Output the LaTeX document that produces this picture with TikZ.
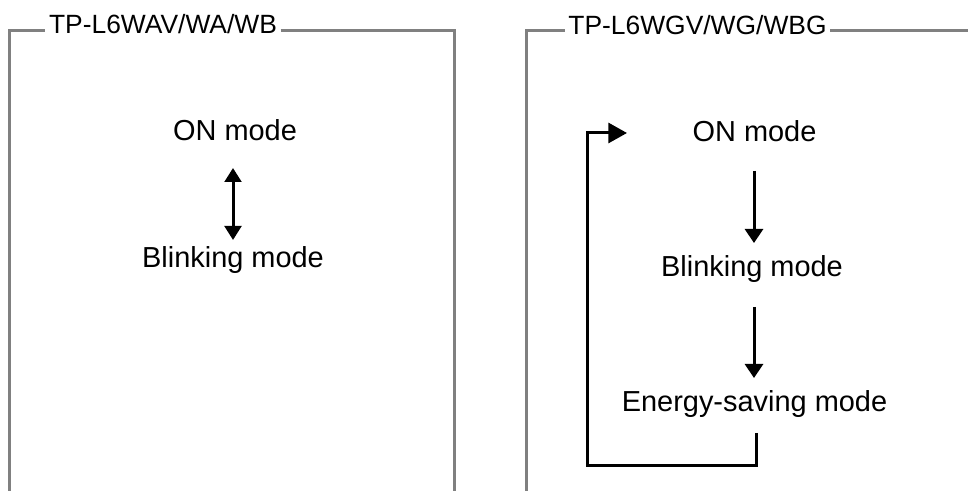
\documentclass[tikz,border=0pt]{standalone}
\usepackage{fontspec}
\setmainfont{Liberation Sans}
\usetikzlibrary{arrows.meta,calc}
\definecolor{framegray}{HTML}{808080}
\begin{document}
\begin{tikzpicture}[x=0.75pt,y=-0.75pt,
  frameline/.style={draw=framegray,line width=2.25pt},
  flowline/.style={line width=2.25pt},
  tip/.tip={Triangle[length=10.5pt,width=12.5pt]},
  bigtip/.tip={Triangle[length=14pt,width=15pt]},
  modelabel/.style={font=\fontsize{21.7}{26}\selectfont, inner sep=0pt, anchor=base},
  titlelabel/.style={font=\fontsize{19.8}{24}\selectfont, inner xsep=2.5pt, inner ysep=0pt, anchor=base}]
\useasboundingbox (0,0) rectangle (968,491);

% ---------- left panel ----------
\node[titlelabel] (t1) at (163,33.5) {TP-L6WAV/WA/WB};
\coordinate (ly1) at (0,31);
\draw[frameline] (9.5,491) -- (9.5,31) -- (t1.west |- ly1);
\draw[frameline] (t1.east |- ly1) -- (454.5,31) -- (454.5,491);

\node[modelabel] (on1) at (235,141) {ON mode};
\node[modelabel] (bl1) at (233,268) {Blinking mode};
\draw[flowline,{tip}-{tip}] ($(on1.base)+(-2,27)$) -- ($(bl1.base)+(0,-28)$);

% ---------- right panel ----------
\node[titlelabel] (t2) at (697.5,35) {TP-L6WGV/WG/WBG};
\coordinate (ly2) at (0,30.5);
\draw[frameline] (526.5,491) -- (526.5,30.5) -- (t2.west |- ly2);
\draw[frameline] (t2.east |- ly2) -- (968,30.5);

\node[modelabel] (on2) at (754.5,142) {ON mode};
\node[modelabel] (bl2) at (752,277) {Blinking mode};
\node[modelabel] (es2) at (754.5,412) {Energy-saving mode};

\draw[flowline,-{tip[width=13.5pt]}] ($(on2.base)+(-0.5,29)$) -- ($(bl2.base)+(2,-34)$);
\draw[flowline,-{tip[width=13.5pt]}] ($(bl2.base)+(2,30)$) -- ($(es2.base)+(-0.5,-34)$);

\coordinate (loopstart) at ($(es2.base)+(1.5,21)$);
\coordinate (loopend) at ($(on2.base)+(-127.5,-9)$);
\draw[flowline,-{bigtip}] (loopstart) -- (loopstart |- 0,466) -- (587.5,466) -- (587.5,133) -- (loopend);
\end{tikzpicture}
\end{document}
